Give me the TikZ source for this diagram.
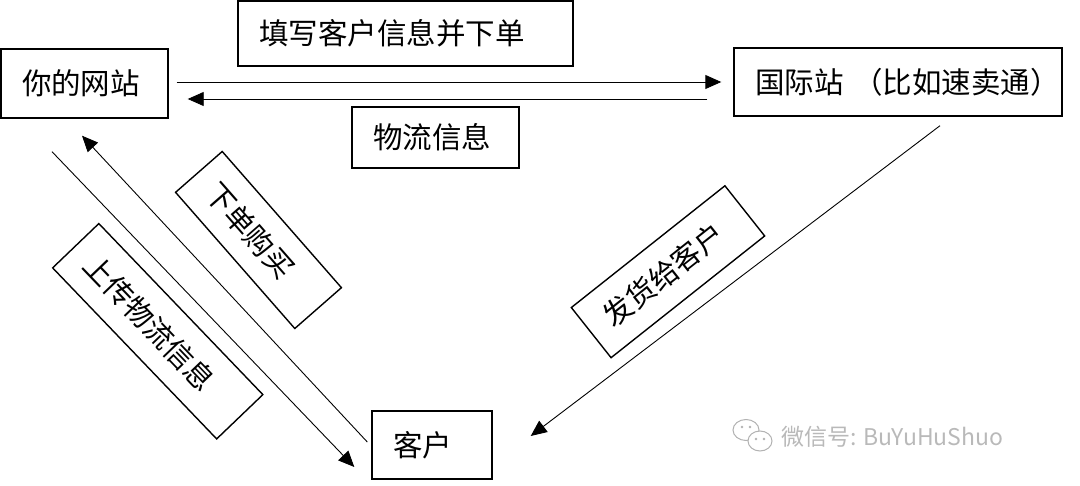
\documentclass[tikz,border=0pt]{standalone}
\usepackage{fontspec}
\setmainfont{Noto Sans CJK SC}
\usetikzlibrary{arrows.meta,calc}
\begin{document}
\begin{tikzpicture}[x=1pt,y=-1pt,
  box/.style={draw,line width=1.4pt,inner xsep=21pt,inner ysep=0pt,align=left,
    font=\fontsize{29.5}{32}\selectfont},
  rbox/.style={draw,line width=1.4pt,inner xsep=20pt,inner ysep=0pt,align=left,
    font=\fontsize{29}{32}\selectfont},
  conn/.style={line width=0.9pt,-{Triangle[length=16pt,width=14pt]}},
  wmark/.style={text=gray!55,font=\fontsize{23}{26}\selectfont,inner sep=0pt}]
\useasboundingbox (0,0) rectangle (1080,486);
% main boxes
\node[box,text width=125pt,minimum height=69pt] (site) at (84.5,83.5) {你的网站};
\node[box,text width=286pt,minimum height=68pt] (intl) at (898,82) {国际站\kern10pt（比如速卖通）};
\node[box,text width=293pt,minimum height=65pt] (fill) at (405.5,33.5) {填写客户信息并下单};
\node[box,text width=125pt,minimum height=61pt] (logi) at (435.5,137.5) {物流信息};
\node[box,text width=78pt,minimum height=68pt] (cust) at (432,445) {客户};
% rotated label boxes
\node[rbox,text width=141pt,minimum height=62pt,rotate=-48.8] (buy) at (258.5,240) {下单购买};
\node[rbox,text width=197pt,minimum height=64pt,rotate=-46.2] (upload) at (157.75,331.25) {上传物流信息};
\node[rbox,text width=156pt,minimum height=64pt,rotate=38.4] (ship) at (668,271.75) {发货给客户};
% connectors
\draw[conn] ([shift={(8,-1.5)}]site.east) -- ([shift={(-12,0)}]intl.west);
\draw[conn] ([shift={(-26,17)}]intl.west) -- ([shift={(19,15.5)}]site.east);
\draw[conn] ([shift={(-32.5,33)}]site.south) -- ([shift={(-17,22)}]cust.west);
\draw[conn] ([shift={(-4,-3)}]cust.west) -- ([shift={(-2.5,17)}]site.south);
\draw[conn] ([shift={(42,9)}]intl.south) -- ([shift={(38,-9)}]cust.east);
% watermark
\begin{scope}[draw=gray!60,line width=1pt]
  \draw[fill=white] (746,430) ellipse [x radius=13, y radius=10.5];
  \draw[fill=white] (760,441) ellipse [x radius=12, y radius=10];
  \fill[gray!60] (742,427) circle (1.3) (750,427) circle (1.3)
                 (756,439) circle (1.3) (764,439) circle (1.3);
\end{scope}
\node[wmark,anchor=west] (wm) at (781,437) {微信号: BuYuHuShuo};
\end{tikzpicture}
\end{document}
